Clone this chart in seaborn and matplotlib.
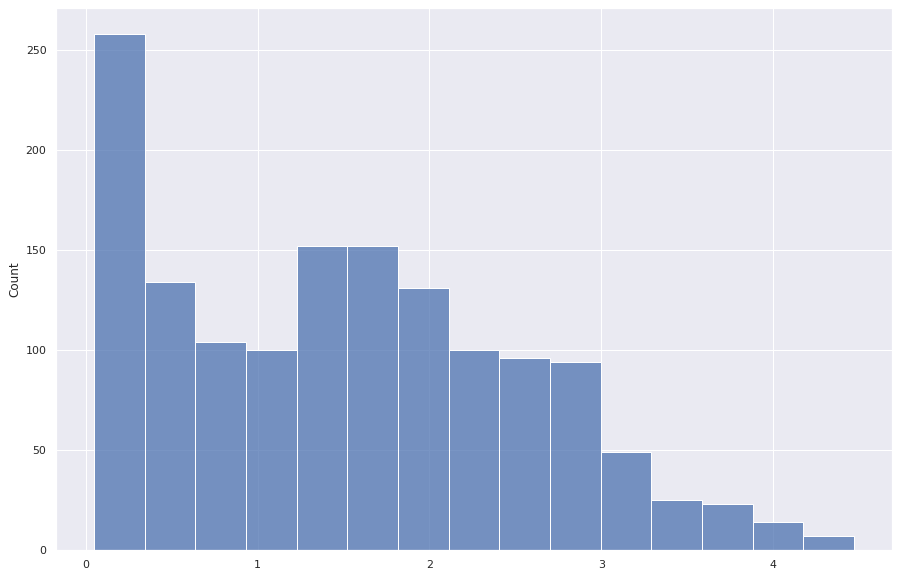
import numpy as np
import pandas as pd
import matplotlib
matplotlib.use("Agg")
import matplotlib.pyplot as plt
import seaborn as sns

# counts, left to right
counts = [258, 134, 104, 100, 152, 152, 131, 100, 96, 94, 49, 25, 23, 14, 7]
# range covered by the 15 equal bins
bin_lo = 0.048
bin_hi = 4.47

edges = np.linspace(bin_lo, bin_hi, len(counts) + 1)
centers = (edges[:-1] + edges[1:]) / 2
df = pd.DataFrame({"value": centers, "count": counts})

sns.set_theme()
fig = plt.figure(figsize=(898 / 72, 577 / 72), dpi=72)
ax = fig.add_axes([56 / 898, 27 / 577, 836 / 898, 542 / 577])
sns.histplot(data=df, x="value", weights="count", bins=len(counts),
             binrange=(bin_lo, bin_hi), ax=ax)
ax.set_xlabel("")
ax.set_ylabel("Count")
fig.savefig("out.png", dpi=72)
